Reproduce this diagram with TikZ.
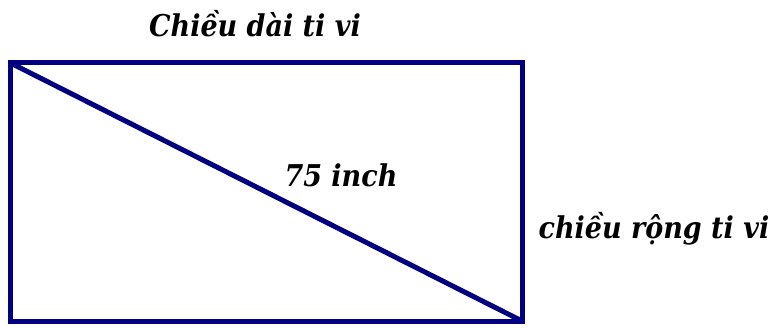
\documentclass[tikz,border=0pt]{standalone}
\usepackage{fontspec}
\setmainfont{DejaVu Serif Condensed}
\definecolor{tvblue}{RGB}{0,0,128}
\begin{document}
\begin{tikzpicture}[x=0.75pt,y=0.75pt,yscale=-1,
	tvline/.style={draw=tvblue, line width=3.75pt},
	lbl/.style={font=\fontsize{22.5}{26}\selectfont\bfseries\itshape}]
	\useasboundingbox (0,0) rectangle (772,328);
	% corners of the screen
	\coordinate (TL) at (10.5,63);
	\coordinate (TR) at (522,63);
	\coordinate (BR) at (522,321);
	\coordinate (BL) at (10.5,321);
	\draw [tvline, line join=miter] (TL) -- (TR) -- (BR) -- (BL) -- cycle;
	%diagonal
	\draw [tvline] (TL) -- (BR);
	% labels
	\node [lbl] (length) at (255,24) {Chiều dài ti vi};
	\node [lbl] (diag) at (341,175) {75 inch};
	\node [lbl] (width) at (654,229) {chiều rộng ti vi};
\end{tikzpicture}
\end{document}
